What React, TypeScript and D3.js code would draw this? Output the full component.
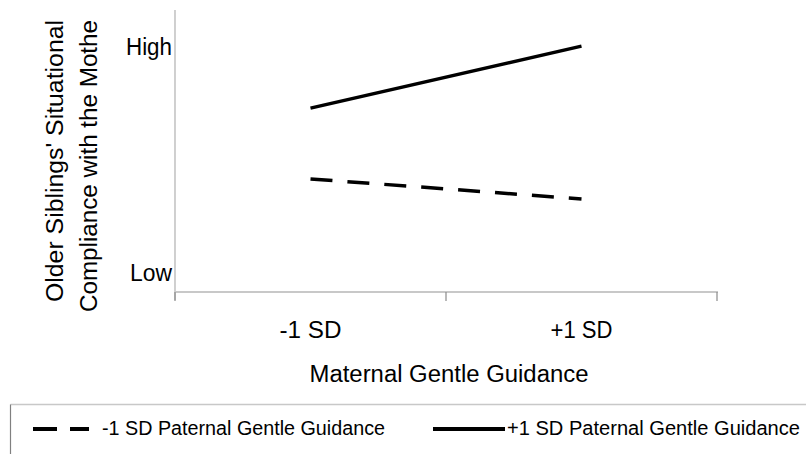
import React, { useEffect, useRef } from "react";
import * as d3 from "d3";

// x categories (maternal gentle guidance)
const categories = ["-1 SD", "+1 SD"];
// series values, arbitrary 0-100 compliance scale
const lowPaternal = [40.1, 33.0];
const highPaternal = [65.2, 87.2];
const seriesNames = ["-1 SD Paternal Gentle Guidance", "+1 SD Paternal Gentle Guidance"];
// y axis only shows two anchor labels
const yTickValues = [6.6, 86.8];
const yTickLabels = ["Low", "High"];

const FONT = "'Liberation Sans', Arial, sans-serif";

function App() {
  const ref = useRef<SVGSVGElement | null>(null);

  useEffect(() => {
    const svg = d3.select(ref.current);
    svg.selectAll("*").remove();

    const x = d3.scaleBand().domain(categories).range([175, 717]);
    const y = d3.scaleLinear().domain([0, 100]).range([292, 10]);

    // axes
    svg.append("line").attr("x1", 175).attr("x2", 175).attr("y1", y(100)).attr("y2", 300)
      .attr("stroke", "#c4c4c4").attr("stroke-width", 1.6);
    svg.append("line").attr("x1", 175).attr("x2", 718).attr("y1", y(0)).attr("y2", y(0))
      .attr("stroke", "#c8c8c8").attr("stroke-width", 2);

    const tickXs = [x.range()[0], ...categories.map(c => (x(c) as number) + x.bandwidth())];
    svg.selectAll(".xtick").data(tickXs).enter().append("line")
      .attr("x1", d => d).attr("x2", d => d).attr("y1", y(0)).attr("y2", 301)
      .attr("stroke", "#8a8a8a").attr("stroke-width", 1.2);

    const yLabLen = [42, 46];
    svg.selectAll(".ylab").data(yTickValues).enter().append("text")
      .attr("x", 172).attr("y", d => y(d)).attr("dy", "0.35em")
      .attr("text-anchor", "end").attr("font-family", FONT).attr("font-size", 23)
      .attr("textLength", (d, i) => yLabLen[i]).attr("lengthAdjust", "spacingAndGlyphs")
      .text((d, i) => yTickLabels[i]);

    svg.selectAll(".xlab").data(categories).enter().append("text")
      .attr("x", d => (x(d) as number) + x.bandwidth() / 2).attr("y", 338)
      .attr("text-anchor", "middle").attr("font-family", FONT).attr("font-size", 23)
      .attr("textLength", 62).attr("lengthAdjust", "spacingAndGlyphs")
      .text(d => d);

    svg.append("text").attr("x", 449).attr("y", 382).attr("text-anchor", "middle")
      .attr("font-family", FONT).attr("font-size", 23)
      .attr("textLength", 279).attr("lengthAdjust", "spacingAndGlyphs")
      .text("Maternal Gentle Guidance");

    // y title, two lines rotated
    const yTitle = [
      { t: "Older Siblings' Situational", bx: 63, cy: 161, len: 282 },
      { t: "Compliance with the Mothe", bx: 97, cy: 166, len: 292 },
    ];
    yTitle.forEach(l => {
      svg.append("text")
        .attr("transform", `translate(${l.bx},${l.cy}) rotate(-90)`)
        .attr("text-anchor", "middle").attr("font-family", FONT).attr("font-size", 23)
        .attr("textLength", l.len).attr("lengthAdjust", "spacingAndGlyphs")
        .text(l.t);
    });

    const line = d3.line<number>()
      .x((d, i) => (x(categories[i]) as number) + x.bandwidth() / 2)
      .y(d => y(d));

    svg.append("path").datum(lowPaternal).attr("d", line)
      .attr("fill", "none").attr("stroke", "#000").attr("stroke-width", 3.5)
      .attr("stroke-dasharray", "22 15");
    svg.append("path").datum(highPaternal).attr("d", line)
      .attr("fill", "none").attr("stroke", "#000").attr("stroke-width", 3.5);

    // legend
    svg.append("line").attr("x1", 10.5).attr("x2", 806).attr("y1", 404.5).attr("y2", 404.5)
      .attr("stroke", "#c8c8c8").attr("stroke-width", 1.5);
    svg.append("line").attr("x1", 10.5).attr("x2", 10.5).attr("y1", 404.5).attr("y2", 454)
      .attr("stroke", "#808080").attr("stroke-width", 1.2);

    const legend = [
      { name: seriesNames[0], x1: 33, x2: 89, tx: 102, len: 283, dash: "24 13" },
      { name: seriesNames[1], x1: 433, x2: 505, tx: 507, len: 293, dash: null },
    ];
    legend.forEach(l => {
      const ln = svg.append("line").attr("x1", l.x1).attr("x2", l.x2).attr("y1", 429).attr("y2", 429)
        .attr("stroke", "#000").attr("stroke-width", 4);
      if (l.dash) ln.attr("stroke-dasharray", l.dash);
      svg.append("text").attr("x", l.tx).attr("y", 434.5)
        .attr("font-family", FONT).attr("font-size", 20)
        .attr("textLength", l.len).attr("lengthAdjust", "spacingAndGlyphs")
        .text(l.name);
    });
  }, []);

  return (
    <svg ref={ref} width={806} height={454}
      style={{ position: "absolute", left: 0, top: 0, background: "#fff", display: "block" }} />
  );
}

export default App;
